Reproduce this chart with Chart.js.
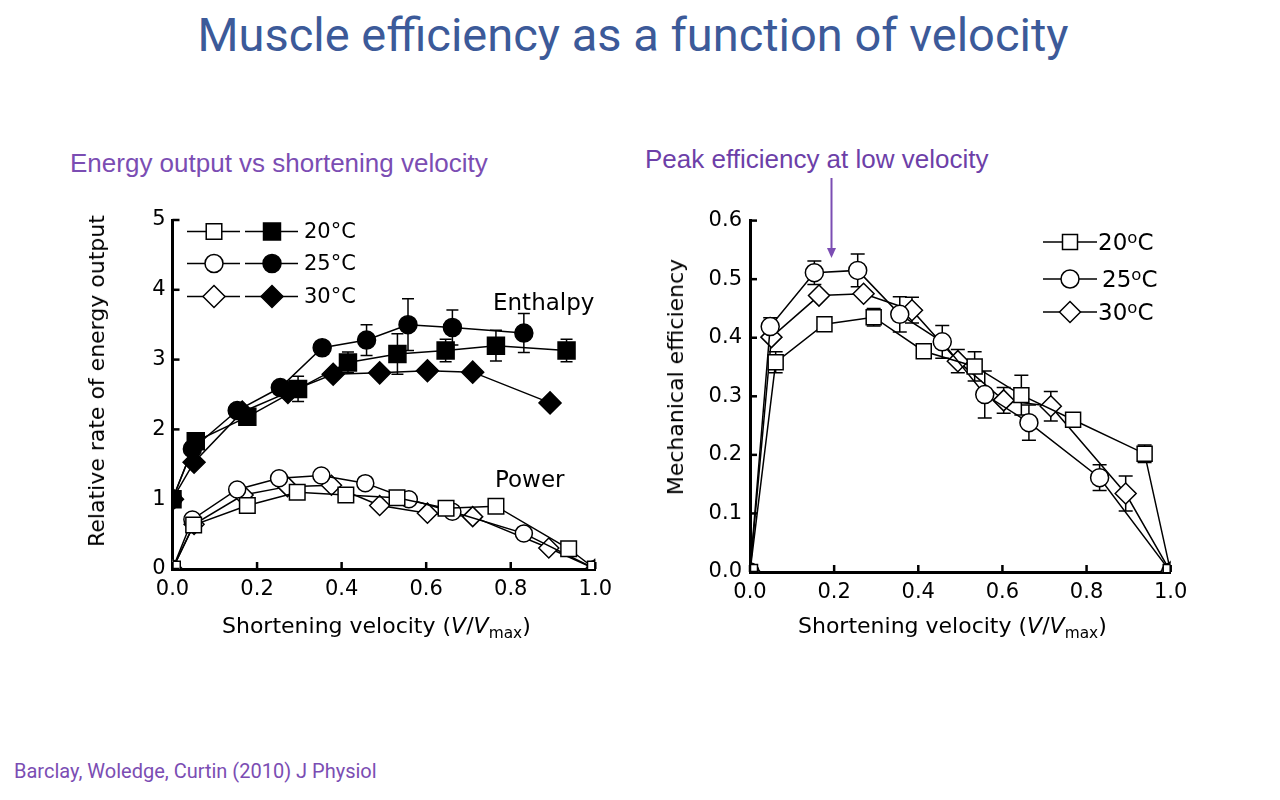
<!DOCTYPE html>
<html>
<head>
<meta charset="utf-8">
<title>Muscle efficiency as a function of velocity</title>
<script src="https://cdn.jsdelivr.net/npm/chart.js@4.4.1/dist/chart.umd.min.js"></script>
<style>
  html, body { margin:0; padding:0; background:#fff; }
  body { width:1280px; height:800px; position:relative; overflow:hidden; }
  .t { position:absolute; white-space:nowrap; line-height:1; z-index:2; }
  .fig { font-family:'DejaVu Sans', sans-serif; color:#000; }
  #title { left:0; width:1266px; text-align:center; top:11px; font-family:Roboto, sans-serif; font-size:47px; color:#3c5a99; }
  .sub { font-family:'Liberation Sans', Arial, sans-serif; font-size:26px; color:#7b4db3; }
  #foot { left:14px; top:761px; font-family:Roboto, sans-serif; font-size:20px; color:#7b4db3; }
  canvas { position:absolute; z-index:1; }
  .rot { transform: translate(-50%,-50%) rotate(-90deg); }
  .xt sub { font-size:0.7em; vertical-align:-0.3em; line-height:0; }
  .lg sup { font-size:0.72em; vertical-align:0.4em; line-height:0; }
</style>
</head>
<body>
<div id="title" class="t">Muscle efficiency as a function of velocity</div>
<div class="t sub" style="left:70px;top:150px">Energy output vs shortening velocity</div>
<div class="t sub" style="left:645px;top:146px;color:#6d3fa8">Peak efficiency at low velocity</div>
<svg style="position:absolute;left:820px;top:170px;z-index:2" width="24" height="95">
  <line x1="11.5" y1="8" x2="11.5" y2="80" stroke="#7b4db3" stroke-width="2"/>
  <polygon points="7,78 16,78 11.5,88" fill="#7b4db3"/>
</svg>

<div class="t fig rot" style="left:97px;top:381px;font-size:22px">Relative rate of energy output</div>
<div class="t fig xt" style="left:222px;top:615px;font-size:22px">Shortening velocity (<i>V</i>/<i>V</i><sub>max</sub>)</div>
<div class="t fig rot" style="left:676px;top:377px;font-size:22px">Mechanical efficiency</div>
<div class="t fig xt" style="left:798px;top:615px;font-size:22px">Shortening velocity (<i>V</i>/<i>V</i><sub>max</sub>)</div>

<div class="t fig" style="left:304px;top:221px;font-size:21px">20°C</div>
<div class="t fig" style="left:304px;top:253px;font-size:21px">25°C</div>
<div class="t fig" style="left:304px;top:286px;font-size:21px">30°C</div>
<div class="t fig" style="left:493px;top:291px;font-size:23px">Enthalpy</div>
<div class="t fig" style="left:495px;top:468px;font-size:23px">Power</div>

<div class="t fig lg" style="left:1098px;top:231px;font-size:23px">20<sup>o</sup>C</div>
<div class="t fig lg" style="left:1102px;top:268px;font-size:23px">25<sup>o</sup>C</div>
<div class="t fig lg" style="left:1098px;top:301px;font-size:23px">30<sup>o</sup>C</div>

<div id="foot" class="t">Barclay, Woledge, Curtin (2010) J Physiol</div>

<canvas id="left" width="520" height="440" style="left:100px;top:200px"></canvas>
<canvas id="right" width="540" height="440" style="left:680px;top:200px"></canvas>

<script>
// ---------------- DATA ----------------
// Left panel: enthalpy (filled markers)
const enthV20 = [0, 0.055, 0.177, 0.297, 0.415, 0.532, 0.646, 0.765, 0.932];
const enth20  = [1.0, 1.83, 2.18, 2.58, 2.96, 3.08, 3.13, 3.20, 3.13];
const enthErr20 = [0, 0, 0, 0.18, 0.15, 0.29, 0.16, 0.22, 0.16];

const enthV25 = [0, 0.047, 0.153, 0.255, 0.354, 0.459, 0.557, 0.662, 0.831];
const enth25  = [1.0, 1.72, 2.27, 2.60, 3.17, 3.28, 3.50, 3.46, 3.38];
const enthErr25 = [0, 0, 0, 0, 0, 0.22, 0.37, 0.25, 0.28];

const enthV30 = [0, 0.051, 0.165, 0.273, 0.380, 0.490, 0.603, 0.710, 0.893];
const enth30  = [1.0, 1.53, 2.25, 2.53, 2.79, 2.81, 2.84, 2.82, 2.38];

// Left panel: power (open markers)
const powV20 = [0, 0.050, 0.177, 0.295, 0.410, 0.531, 0.647, 0.765, 0.937, 1.0];
const pow20  = [0, 0.63, 0.91, 1.10, 1.06, 1.02, 0.87, 0.90, 0.29, 0];
const powV25 = [0, 0.047, 0.153, 0.252, 0.352, 0.456, 0.559, 0.662, 0.831, 1.0];
const pow25  = [0, 0.71, 1.14, 1.30, 1.34, 1.23, 1.00, 0.82, 0.51, 0];
const powV30 = [0, 0.051, 0.167, 0.272, 0.376, 0.490, 0.603, 0.710, 0.890, 1.0];
const pow30  = [0, 0.64, 1.06, 1.18, 1.20, 0.91, 0.80, 0.75, 0.30, 0];

// Right panel: mechanical efficiency
const effV20 = [0, 0.061, 0.177, 0.294, 0.413, 0.534, 0.645, 0.768, 0.938, 1.0];
const eff20  = [0, 0.358, 0.423, 0.435, 0.377, 0.351, 0.302, 0.260, 0.202, 0];
const effErr20 = [0, 0.018, 0.012, 0.015, 0, 0.025, 0.034, 0, 0.015, 0];
const effV25 = [0, 0.048, 0.153, 0.256, 0.356, 0.457, 0.558, 0.663, 0.831, 1.0];
const eff25  = [0, 0.419, 0.511, 0.515, 0.440, 0.393, 0.303, 0.255, 0.161, 0];
const effErr25 = [0, 0.015, 0.020, 0.028, 0.030, 0.028, 0.040, 0.030, 0.022, 0];
const effV30 = [0, 0.051, 0.164, 0.270, 0.385, 0.494, 0.603, 0.715, 0.893, 1.0];
const eff30  = [0, 0.401, 0.472, 0.475, 0.447, 0.360, 0.293, 0.283, 0.134, 0];
const effErr30 = [0, 0, 0, 0, 0.022, 0.020, 0.022, 0.025, 0.030, 0];

const temps = ['20°C', '25°C', '30°C'];
const xTicks = [0, 0.2, 0.4, 0.6, 0.8, 1.0];

// ---------------- helpers ----------------
function pts(xs, ys) { return xs.map((v, i) => ({ x: v, y: ys[i] })); }

function series(label, xs, ys, errs, style, radius, filled) {
  return {
    label: label, data: pts(xs, ys), errors: errs || null,
    showLine: true, borderColor: '#000', borderWidth: 1.5,
    backgroundColor: filled ? '#000' : '#fff',
    pointBackgroundColor: filled ? '#000' : '#fff',
    pointBorderColor: '#000', pointBorderWidth: 1.5,
    pointStyle: style, pointRadius: radius, pointHoverRadius: radius,
    tension: 0, clip: 0, fill: false
  };
}

function drawMarker(ctx, style, r, x, y, filled) {
  ctx.save();
  ctx.fillStyle = filled ? '#000' : '#fff';
  ctx.strokeStyle = '#000';
  ctx.lineWidth = 1.5;
  ctx.beginPath();
  if (style === 'rect') {
    const s = r * Math.SQRT1_2;
    ctx.rect(x - s, y - s, 2 * s, 2 * s);
  } else if (style === 'rectRot') {
    ctx.moveTo(x, y - r); ctx.lineTo(x + r, y); ctx.lineTo(x, y + r); ctx.lineTo(x - r, y); ctx.closePath();
  } else {
    ctx.arc(x, y, r, 0, Math.PI * 2);
  }
  ctx.fill(); ctx.stroke();
  ctx.restore();
}

const inwardTicks = {
  id: 'inwardTicks',
  afterDraw(chart) {
    const { ctx, chartArea, scales } = chart;
    const x = scales.x, y = scales.y;
    ctx.save();
    ctx.strokeStyle = '#000'; ctx.lineWidth = 2.5;
    x.ticks.forEach(t => {
      const px = x.getPixelForValue(t.value);
      ctx.beginPath(); ctx.moveTo(px, chartArea.bottom); ctx.lineTo(px, chartArea.bottom - 7); ctx.stroke();
    });
    y.ticks.forEach(t => {
      const py = y.getPixelForValue(t.value);
      ctx.beginPath(); ctx.moveTo(chartArea.left, py); ctx.lineTo(chartArea.left + 7, py); ctx.stroke();
    });
    ctx.restore();
  }
};

function errorBarPlugin(cap) {
  return {
    id: 'errorBars',
    beforeDatasetsDraw(chart) {
      const { ctx, scales } = chart;
      const x = scales.x, y = scales.y;
      ctx.save();
      ctx.strokeStyle = '#000'; ctx.lineWidth = 1.5;
      chart.data.datasets.forEach(ds => {
        if (!ds.errors) return;
        ds.data.forEach((p, j) => {
          const e = ds.errors[j];
          if (!e) return;
          const px = x.getPixelForValue(p.x);
          const top = y.getPixelForValue(p.y + e), bot = y.getPixelForValue(p.y - e);
          ctx.beginPath();
          ctx.moveTo(px, top); ctx.lineTo(px, bot);
          ctx.moveTo(px - cap, top); ctx.lineTo(px + cap, top);
          ctx.moveTo(px - cap, bot); ctx.lineTo(px + cap, bot);
          ctx.stroke();
        });
      });
      ctx.restore();
    }
  };
}

function legendPlugin(rows, offX, offY) {
  return {
    id: 'markerLegend',
    afterDraw(chart) {
      const ctx = chart.ctx;
      ctx.save();
      ctx.strokeStyle = '#000'; ctx.lineWidth = 1.5;
      rows.forEach(r => {
        r.segs.forEach(s => {
          ctx.beginPath();
          ctx.moveTo(s.x1 - offX, r.y - offY); ctx.lineTo(s.x2 - offX, r.y - offY); ctx.stroke();
          drawMarker(ctx, s.style, s.r, s.mx - offX, r.y - offY, s.filled);
        });
      });
      ctx.restore();
    }
  };
}

const tickFont = { family: 'DejaVu Sans', size: 21 };

function scalesCfg(yMax, yStep, yFmt, yWidth, xHeight, yPad) {
  return {
    x: {
      type: 'linear', min: 0, max: 1,
      afterBuildTicks: s => { s.ticks = xTicks.map(v => ({ value: v })); },
      ticks: { font: tickFont, color: '#000', padding: 8, maxRotation: 0, autoSkip: false,
               callback: v => Number(v).toFixed(1) },
      grid: { display: false, drawTicks: false },
      border: { display: true, color: '#000', width: 3 },
      afterFit: s => { s.height = xHeight; }
    },
    y: {
      type: 'linear', min: 0, max: yMax,
      ticks: { stepSize: yStep, font: tickFont, color: '#000', padding: yPad, callback: yFmt },
      grid: { display: false, drawTicks: false },
      border: { display: true, color: '#000', width: 3 },
      afterFit: s => { s.width = yWidth; }
    }
  };
}

// ---------------- LEFT CHART ----------------
const leftDatasets = [
  series('Enthalpy ' + temps[0], enthV20, enth20, enthErr20, 'rect', 12, true),
  series('Enthalpy ' + temps[1], enthV25, enth25, enthErr25, 'circle', 9, true),
  series('Enthalpy ' + temps[2], enthV30, enth30, null, 'rectRot', 11, true),
  series('Power ' + temps[0], powV20, pow20, null, 'rect', 11, false),
  series('Power ' + temps[1], powV25, pow25, null, 'circle', 8.5, false),
  series('Power ' + temps[2], powV30, pow30, null, 'rectRot', 10, false)
];

const leftLegendRows = [
  { y: 231.5, segs: [ { x1: 187, x2: 240, mx: 214, style: 'rect', r: 11, filled: false },
                      { x1: 245, x2: 298, mx: 272, style: 'rect', r: 12, filled: true } ] },
  { y: 263.5, segs: [ { x1: 187, x2: 240, mx: 214, style: 'circle', r: 9, filled: false },
                      { x1: 245, x2: 298, mx: 272, style: 'circle', r: 9, filled: true } ] },
  { y: 296.5, segs: [ { x1: 187, x2: 240, mx: 214, style: 'rectRot', r: 11, filled: false },
                      { x1: 245, x2: 298, mx: 272, style: 'rectRot', r: 11, filled: true } ] }
];

new Chart(document.getElementById('left'), {
  type: 'scatter',
  data: { datasets: leftDatasets },
  options: {
    responsive: false, animation: false,
    layout: { padding: { top: 20, right: 24, left: 0, bottom: 0 } },
    plugins: { legend: { display: false }, tooltip: { enabled: false }, title: { display: false } },
    scales: scalesCfg(5, 1, v => String(v), 72.5, 71, 7)
  },
  plugins: [errorBarPlugin(6), inwardTicks, legendPlugin(leftLegendRows, 100, 200)]
});

// ---------------- RIGHT CHART ----------------
const rightDatasets = [
  series(temps[0], effV20, eff20, effErr20, 'rect', 10.6, false),
  series(temps[1], effV25, eff25, effErr25, 'circle', 9, false),
  series(temps[2], effV30, eff30, effErr30, 'rectRot', 10.5, false)
];

const rightLegendRows = [
  { y: 242, segs: [ { x1: 1043, x2: 1097, mx: 1070, style: 'rect', r: 10.6, filled: false } ] },
  { y: 279, segs: [ { x1: 1043, x2: 1097, mx: 1070, style: 'circle', r: 9, filled: false } ] },
  { y: 312, segs: [ { x1: 1043, x2: 1097, mx: 1070, style: 'rectRot', r: 10.5, filled: false } ] }
];

new Chart(document.getElementById('right'), {
  type: 'scatter',
  data: { datasets: rightDatasets },
  options: {
    responsive: false, animation: false,
    layout: { padding: { top: 20, right: 49.3, left: 0, bottom: 0 } },
    plugins: { legend: { display: false }, tooltip: { enabled: false }, title: { display: false } },
    scales: scalesCfg(0.6, 0.1, v => Number(v).toFixed(1), 70, 68, 8)
  },
  plugins: [errorBarPlugin(7), inwardTicks, legendPlugin(rightLegendRows, 680, 200)]
});
</script>
</body>
</html>
